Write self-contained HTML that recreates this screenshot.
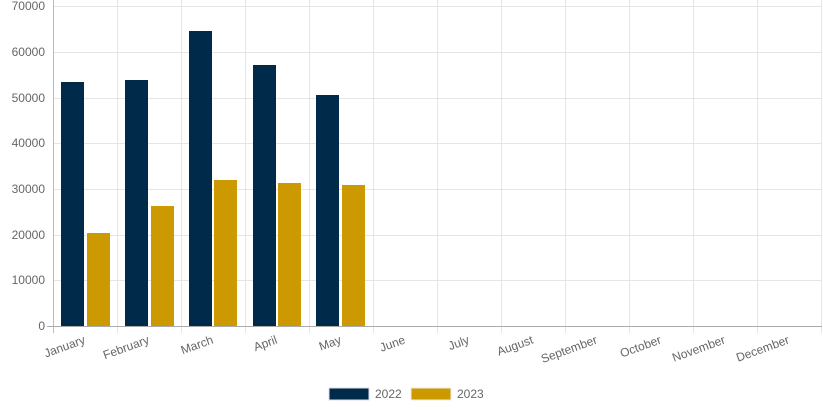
<!DOCTYPE html>
<html><head><style>html,body{margin:0;padding:0;background:#fff}svg{display:block}</style></head>
<body>
<svg width="823" height="411" xmlns="http://www.w3.org/2000/svg" font-family="Liberation Sans, Arial, sans-serif" font-size="12" fill="#666">
<g stroke="#e5e5e5" stroke-width="1">
<line x1="53" y1="6.5" x2="822" y2="6.5"/>
<line x1="53" y1="52.5" x2="822" y2="52.5"/>
<line x1="53" y1="98.5" x2="822" y2="98.5"/>
<line x1="53" y1="143.5" x2="822" y2="143.5"/>
<line x1="53" y1="189.5" x2="822" y2="189.5"/>
<line x1="53" y1="235.5" x2="822" y2="235.5"/>
<line x1="53" y1="280.5" x2="822" y2="280.5"/>
<line x1="117.5" y1="0" x2="117.5" y2="333"/>
<line x1="181.5" y1="0" x2="181.5" y2="333"/>
<line x1="245.5" y1="0" x2="245.5" y2="333"/>
<line x1="309.5" y1="0" x2="309.5" y2="333"/>
<line x1="373.5" y1="0" x2="373.5" y2="333"/>
<line x1="437.5" y1="0" x2="437.5" y2="333"/>
<line x1="501.5" y1="0" x2="501.5" y2="333"/>
<line x1="565.5" y1="0" x2="565.5" y2="333"/>
<line x1="629.5" y1="0" x2="629.5" y2="333"/>
<line x1="693.5" y1="0" x2="693.5" y2="333"/>
<line x1="757.5" y1="0" x2="757.5" y2="333"/>
<line x1="821.5" y1="0" x2="821.5" y2="333"/>
</g>
<line x1="53.5" y1="0" x2="53.5" y2="333" stroke="#bbb"/>
<line x1="47" y1="326.5" x2="822" y2="326.5" stroke="#aaa"/>
<g text-anchor="end">
<text x="45" y="10">70000</text><text x="45" y="56">60000</text><text x="45" y="102">50000</text>
<text x="45" y="147">40000</text><text x="45" y="193">30000</text><text x="45" y="239">20000</text>
<text x="45" y="284">10000</text><text x="45" y="330">0</text>
</g>
<g fill="#002a4a">
<rect x="61" y="82" width="23" height="244"/>
<rect x="125" y="80" width="23" height="246"/>
<rect x="189" y="31" width="23" height="295"/>
<rect x="253" y="65" width="23" height="261"/>
<rect x="316" y="95" width="23" height="231"/>
</g>
<g fill="#cc9900">
<rect x="87" y="233" width="23" height="93"/>
<rect x="151" y="206" width="23" height="120"/>
<rect x="214" y="180" width="23" height="146"/>
<rect x="278" y="183" width="23" height="143"/>
<rect x="342" y="185" width="23" height="141"/>
</g>
<g text-anchor="end">
<text transform="translate(86,343) rotate(-20)">January</text>
<text transform="translate(150,343) rotate(-20)">February</text>
<text transform="translate(214,343) rotate(-20)">March</text>
<text transform="translate(278,343) rotate(-20)">April</text>
<text transform="translate(342,343) rotate(-20)">May</text>
<text transform="translate(406,343) rotate(-20)">June</text>
<text transform="translate(470,343) rotate(-20)">July</text>
<text transform="translate(534,343) rotate(-20)">August</text>
<text transform="translate(598,343) rotate(-20)">September</text>
<text transform="translate(662,343) rotate(-20)">October</text>
<text transform="translate(726,343) rotate(-20)">November</text>
<text transform="translate(790,343) rotate(-20)">December</text>
</g>
<rect x="329" y="388" width="40" height="12" fill="#002a4a" stroke="#dde" stroke-width="1"/>
<text x="375" y="398">2022</text>
<rect x="411" y="388" width="40" height="12" fill="#cc9900" stroke="#eed" stroke-width="1"/>
<text x="457" y="398">2023</text>
</svg>
</body></html>
